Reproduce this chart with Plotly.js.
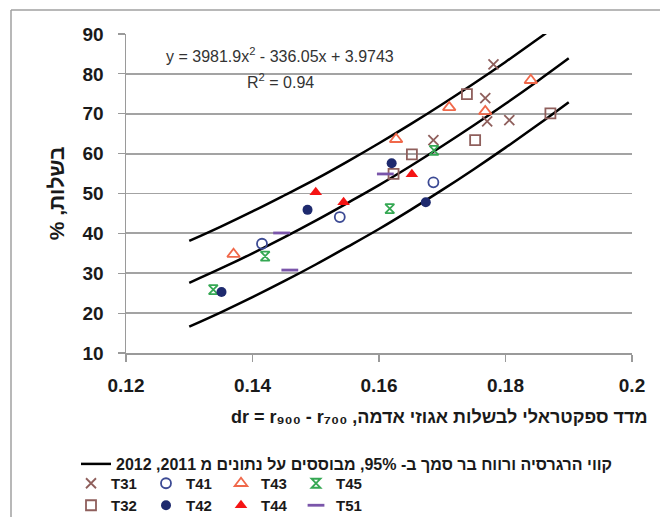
<!DOCTYPE html>
<html>
<head>
<meta charset="utf-8">
<script src="https://cdn.plot.ly/plotly-3.0.1.min.js"></script>
<style>html,body{margin:0;padding:0;background:#fff;}#chart{width:660px;height:517px;}</style>
</head>
<body>
<div id="chart"></div>
<script>
// ---- data ----
const curveX = [0.13, 0.135, 0.14, 0.145, 0.15, 0.155, 0.16, 0.165, 0.17, 0.175, 0.18, 0.185, 0.19];
const curveMid = [27.6, 31.2, 35.0, 39.0, 43.2, 47.6, 52.1, 56.9, 61.9, 67.1, 72.5, 78.1, 83.9];
const curveUpper = [38.1, 41.7, 45.5, 49.5, 53.6, 58.0, 62.6, 67.4, 72.4, 77.6, 83.0, 88.6, 94.4];
const curveLower = [16.6, 20.2, 24.0, 28.0, 32.2, 36.6, 41.1, 45.9, 50.9, 56.1, 61.5, 67.1, 72.9];

const t31X = [0.1686, 0.1781, 0.1768, 0.1771, 0.1806];
const t31Y = [63.4, 82.4, 73.9, 68.1, 68.4];
const t32X = [0.1652, 0.1623, 0.1739, 0.1752, 0.1871];
const t32Y = [59.8, 54.9, 74.9, 63.4, 70.1];
const t41X = [0.1415, 0.1538, 0.1686];
const t41Y = [37.4, 44.1, 52.8];
const t42X = [0.1351, 0.1487, 0.1620, 0.1674];
const t42Y = [25.3, 45.9, 57.6, 47.8];
const t43X = [0.1370, 0.1627, 0.1711, 0.1768, 0.1840];
const t43Y = [34.8, 63.6, 71.6, 70.6, 78.4];
const t44X = [0.1500, 0.1544, 0.1652];
const t44Y = [50.3, 47.8, 54.8];
const t45X = [0.1338, 0.1420, 0.1617, 0.1687];
const t45Y = [25.9, 34.3, 46.2, 60.8];
const t51X = [0.1446, 0.1459, 0.1610];
const t51Y = [40.1, 30.8, 54.9];

const regressionLabel = "\u202Bקווי הרגרסיה ורווח בר סמך ב- 95%, מבוססים על נתונים מ 2011, 2012\u202C";
const xTitle = "\u202Bמדד ספקטראלי לבשלות אגוזי אדמה, dr = r\u2089\u2080\u2080 - r\u2087\u2080\u2080\u202C";
const yTitle = "\u202Bבשלות, %\u202C";
const eqText = "y = 3981.9x<sup>2</sup> - 336.05x + 3.9743";
const r2Text = "R<sup>2</sup> = 0.94";
const yTicks = [10, 20, 30, 40, 50, 60, 70, 80, 90];
const xTicks = [0.12, 0.14, 0.16, 0.18, 0.2];

const F = "Liberation Sans, Arial, sans-serif";
const lineStyle = {color: '#000000', width: 2.5, shape: 'spline'};

const traces = [
  {x: curveX, y: curveUpper, mode: 'lines', line: lineStyle, name: regressionLabel, legend: 'legend', showlegend: true, legendgroup: 'reg'},
  {x: curveX, y: curveMid, mode: 'lines', line: lineStyle, name: regressionLabel, legend: 'legend', showlegend: false, legendgroup: 'reg'},
  {x: curveX, y: curveLower, mode: 'lines', line: lineStyle, name: regressionLabel, legend: 'legend', showlegend: false, legendgroup: 'reg'},
  {x: t31X, y: t31Y, mode: 'markers', name: 'T31', legend: 'legend2', marker: {symbol: 'x-thin-open', size: 10, line: {color: '#8F5F5C', width: 1.8}, color: '#8F5F5C'}},
  {x: t41X, y: t41Y, mode: 'markers', name: 'T41', legend: 'legend2', marker: {symbol: 'circle-open', size: 10, line: {color: '#3C4A94', width: 1.8}, color: '#3C4A94'}},
  {x: t43X, y: t43Y, mode: 'markers', name: 'T43', legend: 'legend2', marker: {symbol: 'triangle-up-open', size: 11, line: {color: '#F0684A', width: 1.8}, color: '#F0684A'}},
  {x: t45X, y: t45Y, mode: 'markers', name: 'T45', legend: 'legend2', marker: {symbol: 'hourglass-open', size: 9, line: {color: '#35A853', width: 1.8}, color: '#35A853'}},
  {x: t32X, y: t32Y, mode: 'markers', name: 'T32', legend: 'legend3', marker: {symbol: 'square-open', size: 10, line: {color: '#8F5F5C', width: 1.8}, color: '#8F5F5C'}},
  {x: t42X, y: t42Y, mode: 'markers', name: 'T42', legend: 'legend3', marker: {symbol: 'circle', size: 10, color: '#1E2A6E'}},
  {x: t44X, y: t44Y, mode: 'markers', name: 'T44', legend: 'legend3', marker: {symbol: 'triangle-up', size: 11, color: '#F51414'}},
  {x: t51X, y: t51Y, mode: 'markers', name: 'T51', legend: 'legend3', marker: {symbol: 'line-ew-open', size: 12, line: {color: '#7A55AA', width: 2.8}, color: '#7A55AA'}}
];

const legendBase = {
  orientation: 'h', xref: 'container', yref: 'container', xanchor: 'left', yanchor: 'top',
  bgcolor: 'rgba(0,0,0,0)', borderwidth: 0, traceorder: 'normal',
  font: {family: F, size: 15, color: '#1a1a1a', weight: 'bold'}
};

const layout = {
  width: 660, height: 517,
  margin: {l: 126, r: 28, t: 34, b: 164},
  paper_bgcolor: '#ffffff', plot_bgcolor: '#ffffff',
  font: {family: F, color: '#1a1a1a'},
  xaxis: {
    range: [0.12, 0.2], tickvals: xTicks, ticktext: xTicks.map(String),
    showgrid: false, zeroline: false, showline: true, linecolor: '#9a9a9a', linewidth: 1.5,
    ticks: 'outside', ticklen: 7, tickcolor: '#9a9a9a', tickwidth: 1.2, ticklabelstandoff: 8,
    tickfont: {family: F, size: 19, color: '#1a1a1a', weight: 'bold'}
  },
  yaxis: {
    range: [10, 90], tickvals: yTicks,
    showgrid: true, gridcolor: '#a3a3a3', gridwidth: 1.8, zeroline: false,
    showline: true, linecolor: '#9a9a9a', linewidth: 1.5,
    ticks: 'outside', ticklen: 7, tickcolor: '#9a9a9a', tickwidth: 1.2, ticklabelstandoff: 10,
    tickfont: {family: F, size: 19, color: '#1a1a1a', weight: 'bold'},
    title: {text: yTitle, standoff: 12, font: {family: F, size: 21, color: '#1a1a1a', weight: 'bold'}}
  },
  legend: Object.assign({}, legendBase, {x: 76/660, y: 1 - 447/517, font: {family: F, size: 16, color: '#1a1a1a', weight: 'bold'}}),
  legend2: Object.assign({}, legendBase, {x: 71/660, y: 1 - 467/517, entrywidth: 30}),
  legend3: Object.assign({}, legendBase, {x: 71/660, y: 1 - 489/517, entrywidth: 30}),
  annotations: [
    {xref: 'x', yref: 'y', x: 0.1443, y: 84.8, text: eqText, showarrow: false,
     font: {family: F, size: 16, color: '#333333'}},
    {xref: 'x', yref: 'y', x: 0.1445, y: 78.3, text: r2Text, showarrow: false,
     font: {family: F, size: 16, color: '#333333'}},
    {xref: 'paper', yref: 'paper', x: (439 - 126) / 506, y: -(417 - 353) / 319, text: xTitle, showarrow: false,
     xanchor: 'center', yanchor: 'middle',
     font: {family: F, size: 18, color: '#1a1a1a', weight: 'bold'}}
  ],
  shapes: [
    {type: 'line', xref: 'paper', yref: 'paper', x0: (11 - 126) / 506, x1: (680 - 126) / 506,
     y0: (353 - 10) / 319, y1: (353 - 10) / 319, line: {color: '#a0a0a0', width: 1.5}},
    {type: 'line', xref: 'paper', yref: 'paper', x0: (11 - 126) / 506, x1: (11 - 126) / 506,
     y0: (353 - 10) / 319, y1: (353 - 540) / 319, line: {color: '#a0a0a0', width: 1.5}}
  ]
};

Plotly.newPlot('chart', traces, layout, {displayModeBar: false, staticPlot: true});
</script>
</body>
</html>
